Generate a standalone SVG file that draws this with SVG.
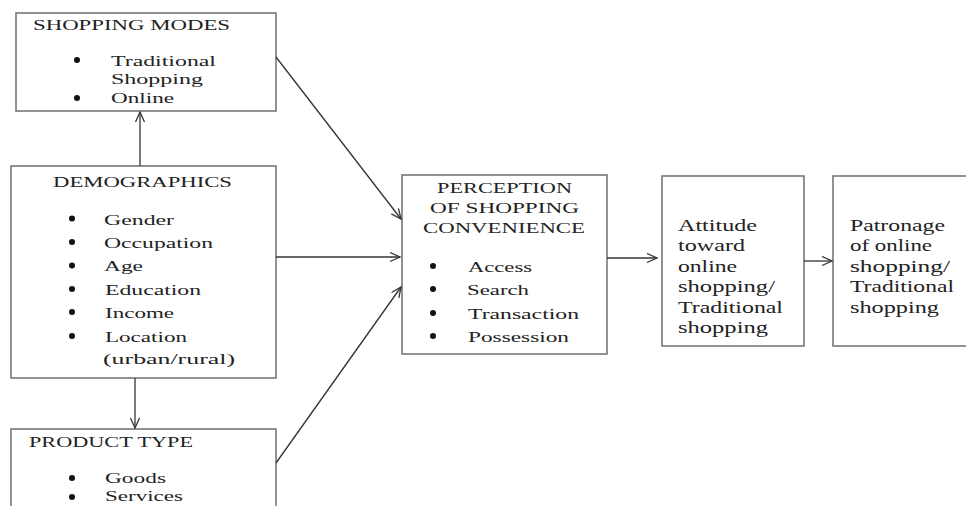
<svg xmlns="http://www.w3.org/2000/svg" width="966" height="506" viewBox="0 0 966 506">
<defs>
<marker id="arr" markerUnits="userSpaceOnUse" markerWidth="14" markerHeight="12" refX="11" refY="5" orient="auto">
<path d="M1,0.5 L11,5 L1,9.5" fill="none" stroke="#333" stroke-width="1.3"/>
</marker>
<style>
.box{fill:#fff;stroke:#777;stroke-width:1.6}
.t{font-family:"Liberation Serif","Times New Roman",serif;fill:#222;font-size:14.5px}
.tr{font-family:"Liberation Serif","Times New Roman",serif;fill:#222;font-size:17px}
.b{fill:#111}
.c{fill:none;stroke:#333;stroke-width:1.3;marker-end:url(#arr)}
</style>
</defs>
<rect width="966" height="506" fill="#fff"/>
<g id="shopping-modes">
<rect class="box" x="16" y="13" width="260" height="98"/>
<text class="t" x="33" y="30" textLength="197" lengthAdjust="spacingAndGlyphs">SHOPPING MODES</text>
<circle class="b" cx="77" cy="60" r="3"/>
<text class="t" x="111" y="66" textLength="105" lengthAdjust="spacingAndGlyphs">Traditional</text>
<text class="t" x="111" y="84" textLength="92" lengthAdjust="spacingAndGlyphs">Shopping</text>
<circle class="b" cx="77" cy="98" r="3"/>
<text class="t" x="111" y="103" textLength="63" lengthAdjust="spacingAndGlyphs">Online</text>
</g>
<g id="demographics">
<rect class="box" x="11" y="166" width="265" height="212"/>
<text class="t" x="53" y="187" textLength="179" lengthAdjust="spacingAndGlyphs">DEMOGRAPHICS</text>
<circle class="b" cx="72" cy="218.5" r="3"/>
<text class="t" x="104" y="225" textLength="70" lengthAdjust="spacingAndGlyphs">Gender</text>
<circle class="b" cx="72" cy="242" r="3"/>
<text class="t" x="104" y="248" textLength="109" lengthAdjust="spacingAndGlyphs">Occupation</text>
<circle class="b" cx="72" cy="265.5" r="3"/>
<text class="t" x="104" y="271" textLength="39" lengthAdjust="spacingAndGlyphs">Age</text>
<circle class="b" cx="72" cy="289" r="3"/>
<text class="t" x="105" y="295" textLength="96" lengthAdjust="spacingAndGlyphs">Education</text>
<circle class="b" cx="72" cy="312" r="3"/>
<text class="t" x="105" y="318" textLength="69" lengthAdjust="spacingAndGlyphs">Income</text>
<circle class="b" cx="72" cy="336" r="3"/>
<text class="t" x="105" y="342" textLength="82" lengthAdjust="spacingAndGlyphs">Location</text>
<text class="t" x="103" y="364" textLength="132" lengthAdjust="spacingAndGlyphs">(urban/rural)</text>
</g>
<g id="product-type">
<rect class="box" x="11" y="429" width="265" height="90"/>
<text class="t" x="29" y="447" textLength="164" lengthAdjust="spacingAndGlyphs">PRODUCT TYPE</text>
<circle class="b" cx="72" cy="478" r="3"/>
<text class="t" x="105" y="483" textLength="61" lengthAdjust="spacingAndGlyphs">Goods</text>
<circle class="b" cx="72" cy="497" r="3"/>
<text class="t" x="105" y="501" textLength="78" lengthAdjust="spacingAndGlyphs">Services</text>
</g>
<g id="perception">
<rect class="box" x="402" y="175" width="205" height="179"/>
<text class="t" x="437" y="193" textLength="135" lengthAdjust="spacingAndGlyphs">PERCEPTION</text>
<text class="t" x="430" y="213" textLength="149" lengthAdjust="spacingAndGlyphs">OF SHOPPING</text>
<text class="t" x="423" y="233" textLength="162" lengthAdjust="spacingAndGlyphs">CONVENIENCE</text>
<circle class="b" cx="433" cy="266" r="3"/>
<text class="t" x="468" y="272" textLength="64" lengthAdjust="spacingAndGlyphs">Access</text>
<circle class="b" cx="433" cy="289" r="3"/>
<text class="t" x="467" y="295" textLength="62" lengthAdjust="spacingAndGlyphs">Search</text>
<circle class="b" cx="433" cy="313" r="3"/>
<text class="t" x="468" y="319" textLength="111" lengthAdjust="spacingAndGlyphs">Transaction</text>
<circle class="b" cx="433" cy="336" r="3"/>
<text class="t" x="468" y="342" textLength="101" lengthAdjust="spacingAndGlyphs">Possession</text>
</g>
<g id="attitude">
<rect class="box" x="662" y="176" width="142" height="170"/>
<text class="tr" x="678" y="231" textLength="79" lengthAdjust="spacingAndGlyphs">Attitude</text>
<text class="tr" x="678" y="251" textLength="67" lengthAdjust="spacingAndGlyphs">toward</text>
<text class="tr" x="678" y="272" textLength="59" lengthAdjust="spacingAndGlyphs">online</text>
<text class="tr" x="678" y="292" textLength="97" lengthAdjust="spacingAndGlyphs">shopping/</text>
<text class="tr" x="678" y="313" textLength="105" lengthAdjust="spacingAndGlyphs">Traditional</text>
<text class="tr" x="678" y="333" textLength="90" lengthAdjust="spacingAndGlyphs">shopping</text>
</g>
<g id="patronage">
<rect class="box" x="833" y="176" width="140" height="170"/>
<text class="tr" x="850" y="231" textLength="95" lengthAdjust="spacingAndGlyphs">Patronage</text>
<text class="tr" x="850" y="251" textLength="82" lengthAdjust="spacingAndGlyphs">of online</text>
<text class="tr" x="850" y="272" textLength="100" lengthAdjust="spacingAndGlyphs">shopping/</text>
<text class="tr" x="850" y="292" textLength="104" lengthAdjust="spacingAndGlyphs">Traditional</text>
<text class="tr" x="850" y="313" textLength="89" lengthAdjust="spacingAndGlyphs">shopping</text>
</g>
<g id="connectors">
<line class="c" x1="140" y1="166" x2="140" y2="112"/>
<line class="c" x1="135" y1="378" x2="135" y2="428"/>
<line class="c" x1="276" y1="57" x2="401" y2="219"/>
<line class="c" x1="276" y1="257" x2="400" y2="257"/>
<line class="c" x1="276" y1="463" x2="401" y2="287"/>
<line class="c" x1="607" y1="258" x2="657" y2="258"/>
<line class="c" x1="804" y1="261" x2="832" y2="261"/>
</g>
</svg>
